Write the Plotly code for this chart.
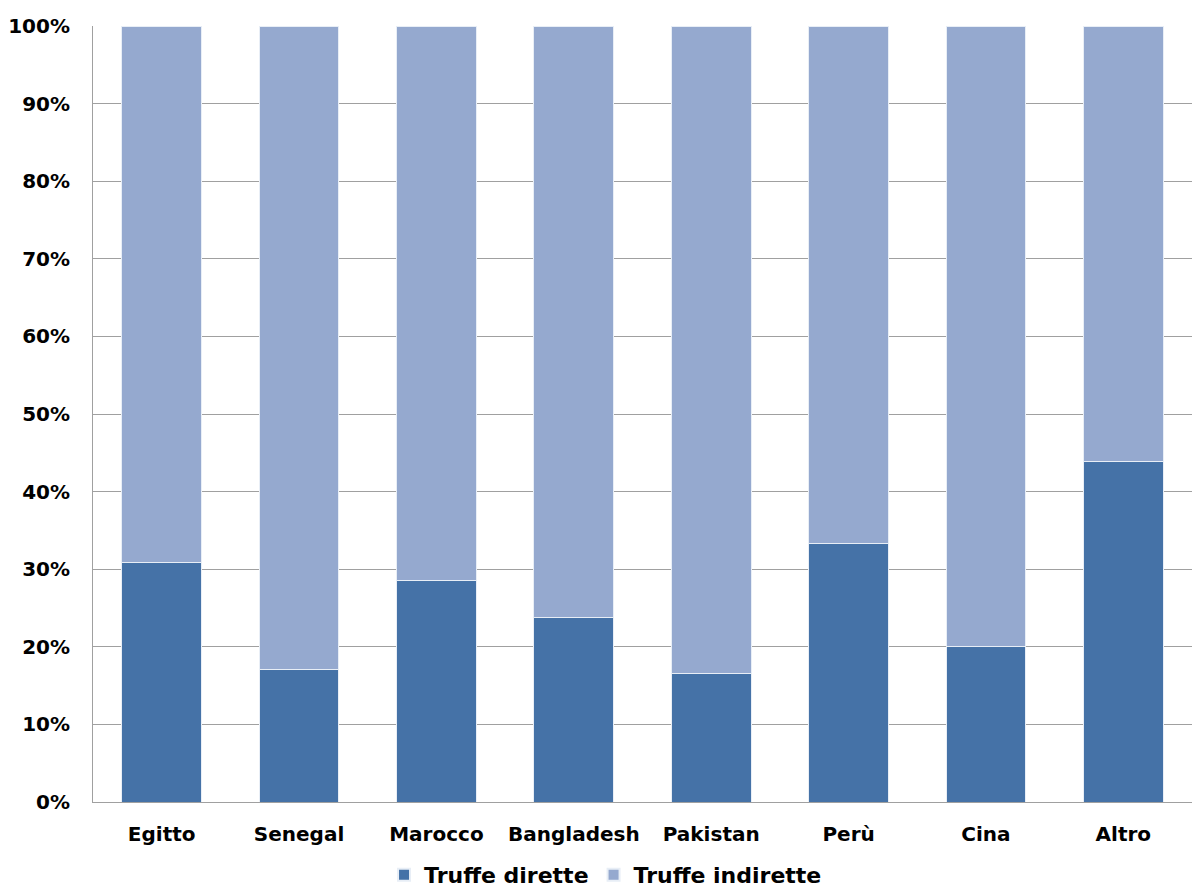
import plotly.graph_objects as go

categories = ["Egitto", "Senegal", "Marocco", "Bangladesh", "Pakistan", "Perù", "Cina", "Altro"]
dirette = [30.8, 17.1, 28.5, 23.8, 16.6, 33.3, 20.0, 43.9]
indirette = [100 - v for v in dirette]
tick_vals = [0, 10, 20, 30, 40, 50, 60, 70, 80, 90, 100]
tick_text = [f"{v}%" for v in tick_vals]

font_family = "'DejaVu Sans', sans-serif"

fig = go.Figure()
fig.add_trace(go.Bar(x=categories, y=dirette, name="Truffe dirette",
                     marker=dict(color="#4572A7", line=dict(color="#E8EEF6", width=1))))
fig.add_trace(go.Bar(x=categories, y=indirette, name="Truffe indirette",
                     marker=dict(color="#95A9CF", line=dict(color="#E8EEF6", width=1))))

fig.update_layout(
    barmode="stack",
    bargap=0.42,
    width=1192, height=890,
    margin=dict(l=93, r=0, t=26, b=88, autoexpand=False),
    plot_bgcolor="white", paper_bgcolor="white",
    font=dict(family=font_family, color="black"),
    showlegend=True,
    legend=dict(orientation="h", x=0.508, xref="container", xanchor="center",
                y=-0.067, yref="paper", yanchor="top",
                font=dict(size=22, family=font_family, weight="bold"),
                itemsizing="constant", traceorder="normal"),
)
fig.update_yaxes(range=[0, 100], tickvals=tick_vals, ticktext=tick_text,
                 showgrid=True, gridcolor="#A0A0A0", gridwidth=1,
                 showline=True, linecolor="#A0A0A0", linewidth=1,
                 ticks="", ticklabelstandoff=18,
                 tickfont=dict(size=20, family=font_family, weight="bold"),
                 zeroline=False)
fig.update_xaxes(showline=True, linecolor="#A0A0A0", linewidth=1,
                 ticks="", ticklabelstandoff=14,
                 tickfont=dict(size=20, family=font_family, weight="bold"))

fig.write_html("out.html")
